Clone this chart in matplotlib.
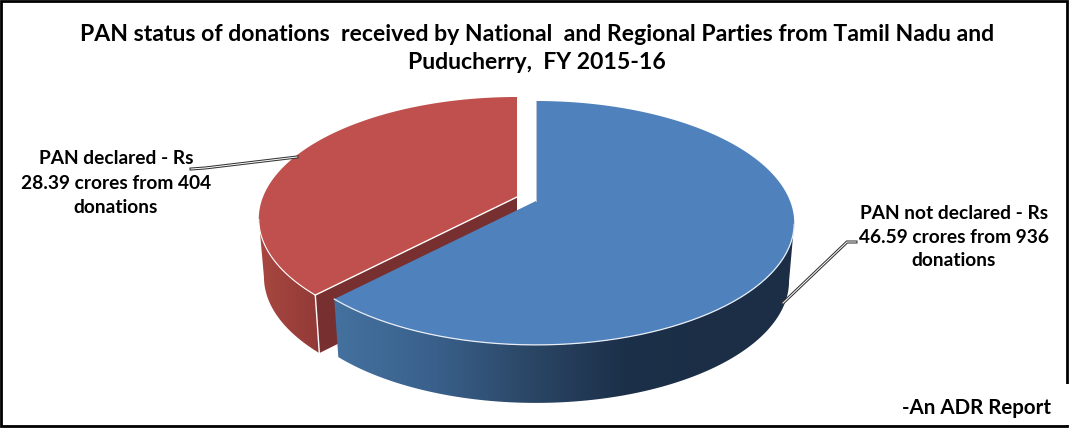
import matplotlib

matplotlib.use("Agg")

import matplotlib.pyplot as plt
import numpy as np
from matplotlib.colors import LinearSegmentedColormap
from matplotlib.patches import Polygon, Rectangle

W, H = 1069, 428

title_text = "PAN status of donations  received by National  and Regional Parties from Tamil Nadu and\nPuducherry,  FY 2015-16"
slice_names = ["PAN not declared", "PAN declared"]
crores = [46.59, 28.39]
label_texts = ["PAN not declared - Rs\n46.59 crores from 936\ndonations", "PAN declared - Rs\n28.39 crores from 404\ndonations"]
note_text = "-An ADR Report"

# pie geometry in pixels
RX, RY, PERSP = 254, 118, 0.18
DEPTH = 58
SHRINK = 0.98
BLUE_APEX = (536, 201)
RED_APEX = (517, 197)


def top_xy(theta, apex):
    # theta is degrees clockwise from 12 o'clock
    t = np.radians(theta)
    u, v = np.sin(t), -np.cos(t)
    w = 1 - PERSP * v
    return apex[0] + RX * u / w, apex[1] + RY * v / w


def drop(x, y, apex):
    return apex[0] + (np.asarray(x) - apex[0]) * SHRINK, np.asarray(y) + DEPTH


def gradient_wall(ax, theta, apex, cmap, x0, x1, zorder):
    x, y = top_xy(theta, apex)
    bx, by = drop(x, y, apex)
    pts = np.vstack([np.c_[x, y], np.c_[bx, by][::-1]])
    poly = Polygon(pts, closed=True, fc="none", ec="none", transform=ax.transData)
    ax.add_patch(poly)
    xs = np.arange(W) + 0.5
    grad = np.clip((xs - x0) / (x1 - x0), 0, 1).reshape(1, -1)
    im = ax.imshow(grad, extent=(0, W, H, 0), cmap=cmap, vmin=0, vmax=1, aspect="auto", zorder=zorder)
    im.set_clip_path(poly)


fig = plt.figure(figsize=(W / 100, H / 100), dpi=100)
ax = fig.add_axes([0, 0, 1, 1])
plt.rcParams["font.family"] = ["Lato", "DejaVu Sans"]

# the slices, from the values
shares = np.array(crores) / sum(crores) * 360
blue_end = shares[0]
# angle where the projected rim is widest, the wall stops showing past it
rim_angle = np.degrees(np.arccos(-PERSP))

red_cmap = LinearSegmentedColormap.from_list("red_wall", ["#a8473f", "#9d403c", "#8f3936"])
blue_cmap = LinearSegmentedColormap.from_list("blue_wall", ["#44719f", "#3a618c", "#2b4767", "#1c3049", "#1b2e46"])

# red slice: outer wall, cut face, top
red_wall = np.linspace(blue_end, 360 - rim_angle, 120)
gradient_wall(ax, red_wall, RED_APEX, red_cmap, 258, 325, 2)
cx, cy = top_xy(blue_end, RED_APEX)
bx, by = drop(cx, cy, RED_APEX)
ax.add_patch(Polygon([RED_APEX, (cx, cy), (bx, by), (RED_APEX[0], RED_APEX[1] + DEPTH)], fc="#772f2f", ec="none", zorder=3))
ax.plot([cx, bx], [cy, by], color="white", lw=1, zorder=3.5)

th = np.linspace(blue_end, 360, 200)
x, y = top_xy(th, RED_APEX)
ax.add_patch(Polygon(np.vstack([[RED_APEX], np.c_[x, y]]), fc="#c0504d", ec="none", zorder=4))
ax.plot(np.r_[RED_APEX[0], x[0]], np.r_[RED_APEX[1], y[0]], color="white", lw=1, zorder=4.5)
ax.plot(x[th < 360 - rim_angle], y[th < 360 - rim_angle], color="white", lw=0.8, zorder=4.5)

# blue slice: outer wall then top
blue_wall = np.linspace(rim_angle, blue_end, 240)
gradient_wall(ax, blue_wall, BLUE_APEX, blue_cmap, 335, 720, 5)

th = np.linspace(0, blue_end, 300)
x, y = top_xy(th, BLUE_APEX)
ax.add_patch(Polygon(np.vstack([[BLUE_APEX], np.c_[x, y]]), fc="#4f81bd", ec="none", zorder=6))
front = th > rim_angle
ax.plot(x[front], y[front], color="#e8eef6", lw=0.9, zorder=6.5)
ax.plot([BLUE_APEX[0], BLUE_APEX[0]], [BLUE_APEX[1], y[0]], color="#b9c6d6", lw=0.7, zorder=6.5)

# leader lines, double stroke
leaders = [([783, 847, 856], [303, 242, 242]), ([297, 205, 191], [157, 168, 169])]
for lx, ly in leaders:
    ax.plot(lx, ly, color="#333333", lw=2.2, zorder=7, solid_joinstyle="miter")
    ax.plot(lx, ly, color="white", lw=0.7, zorder=7.1, solid_joinstyle="miter")

# text
ax.text(537, 48.5, title_text, ha="center", va="center", fontsize=16.6, fontweight="bold", linespacing=1.36, color="black", zorder=9)
ax.text(954, 237, label_texts[0], ha="center", va="center", fontsize=13.8, fontweight="bold", linespacing=1.5, color="black", zorder=9)
ax.text(116, 183, label_texts[1], ha="center", va="center", fontsize=13.8, fontweight="bold", linespacing=1.5, color="black", zorder=9)

# frame, the note box hides the lower part of the right edge
ax.add_patch(Rectangle((1, 1), W - 3, H - 3, fc="none", ec="black", lw=2, zorder=10))
ax.add_patch(Rectangle((890, 384), 179, 41, fc="white", ec="none", zorder=11))
ax.text(1051, 408, note_text, ha="right", va="center", fontsize=14.8, fontweight="bold", color="black", zorder=12)

ax.set_xlim(0, W)
ax.set_ylim(H, 0)
ax.axis("off")

fig.savefig("out.png", dpi=100, facecolor="white")
